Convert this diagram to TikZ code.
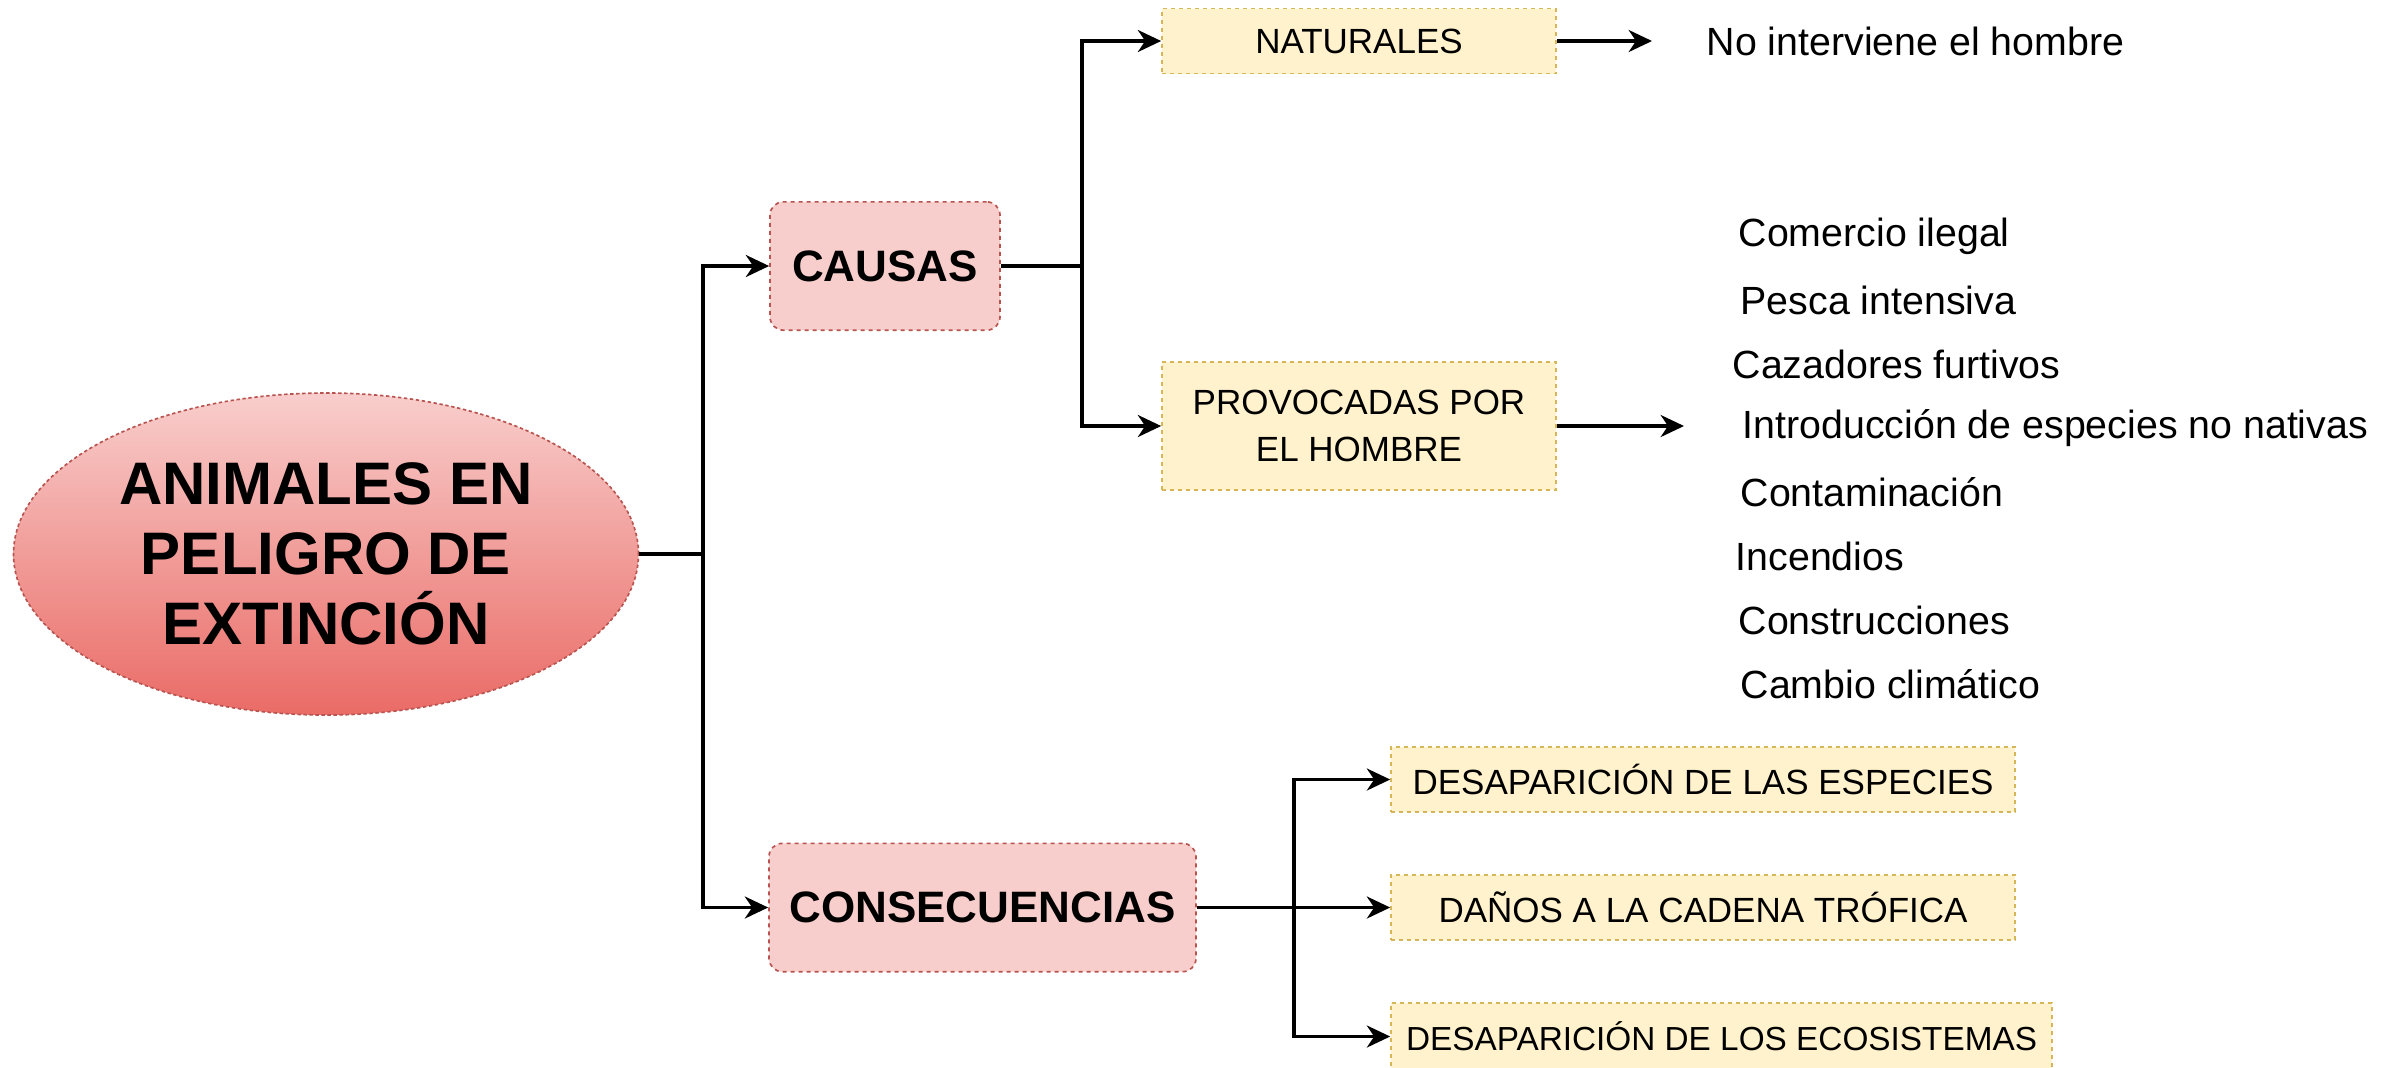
\documentclass[tikz,border=0pt]{standalone}
\usepackage{fontspec}
\setmainfont{Liberation Sans}
\usepackage{xcolor}
\usepackage{tikz}
\usetikzlibrary{arrows.meta,shapes.geometric}

\definecolor{redfill}{HTML}{F8CECC}
\definecolor{redgrad}{HTML}{EA6B66}
\definecolor{redline}{HTML}{B85450}
\definecolor{yelfill}{HTML}{FFF2CC}
\definecolor{yelline}{HTML}{D6B656}

\begin{document}
\begin{tikzpicture}[x=0.3pt,y=0.3pt,yscale=-1,
	conn/.style={line width=1pt,-{Stealth[length=7pt,width=6.6pt,inset=2.2pt]}},
	trunk/.style={line width=1pt},
	mainnode/.style={ellipse,draw=redline,dash pattern=on 1pt off 0.8pt,line width=0.5pt,top color=redfill,bottom color=redgrad,minimum width=187.5pt,minimum height=96.6pt,inner sep=0pt,align=center,font=\fontsize{18}{21}\selectfont\bfseries},
	pinkbox/.style={rectangle,rounded corners=4pt,draw=redline,dash pattern=on 1.2pt off 1.2pt,line width=0.5pt,fill=redfill,minimum height=38.5pt,inner sep=0pt,font=\fontsize{13.2}{15}\selectfont\bfseries},
	yelbox/.style={rectangle,draw=yelline,dash pattern=on 1.2pt off 1.2pt,line width=0.5pt,fill=yelfill,minimum width=118.2pt,inner sep=0pt,align=center,font=\fontsize{10.5}{14.1}\selectfont},
	itemtxt/.style={anchor=west,inner sep=0pt,font=\fontsize{11.8}{14}\selectfont}]
	\useasboundingbox (0,0) rectangle (2389,1067);
	
	%Shape: Ellipse [main]
	\node [mainnode] (animales) at (326,554) {ANIMALES EN\\PELIGRO DE\\EXTINCIÓN};
	
	%Shape: Rounded Rect [causas, consecuencias]
	\node [pinkbox,minimum width=69pt] (causas) at (885,266) {CAUSAS};
	\node [pinkbox,minimum width=128.1pt] (consec) at (982.5,907.5) {CONSECUENCIAS};
	
	%Shape: Rect [naturales, provocadas]
	\node [yelbox,minimum height=19.5pt] (natur) at (1359,41) {NATURALES};
	\node [yelbox,minimum height=38.4pt] (provoc) at (1359,426) {PROVOCADAS POR\\EL HOMBRE};
	
	%Shape: Rect [consecuencias]
	\node [yelbox,minimum width=187.2pt,minimum height=19.5pt] (especies) at (1703,779.5) {DESAPARICIÓN DE LAS ESPECIES};
	\node [yelbox,minimum width=187.2pt,minimum height=19.5pt] (danos) at (1703,907.5) {DAÑOS A LA CADENA TRÓFICA};
	\node [yelbox,minimum width=198.3pt,minimum height=20.1pt,font=\fontsize{10}{14.1}\selectfont] (ecosis) at (1721.5,1036.5) {DESAPARICIÓN DE LOS ECOSISTEMAS};
	
	% Text Node
	\node [itemtxt] (nointer) at (1706,41) {No interviene el hombre};
	% Text Node
	\node [itemtxt] (comercio) at (1738,236) {Comercio ilegal};
	\node [itemtxt] (pesca) at (1740,300) {Pesca intensiva};
	\node [itemtxt] (cazadores) at (1732,364) {Cazadores furtivos};
	\node [itemtxt] (intro) at (1742,428) {Introducción de especies no nativas};
	\node [itemtxt] (contam) at (1740,492) {Contaminación};
	\node [itemtxt] (incendios) at (1735,556) {Incendios};
	\node [itemtxt] (constr) at (1738,620) {Construcciones};
	\node [itemtxt] (cambio) at (1740,684) {Cambio climático};
	
	%Connectors
	\coordinate (split1) at (703,554);
	\coordinate (split2) at (1082,266);
	\coordinate (split3) at (1294,907.5);
	\coordinate (natend) at (1652,41);
	\coordinate (provend) at (1684,426);
	
	\draw [trunk] (animales.east) -- (split1);
	\draw [conn] (split1) |- (causas.west);
	\draw [conn] (split1) |- (consec.west);
	
	\draw [trunk] (causas.east) -- (split2);
	\draw [conn] (split2) |- (natur.west);
	\draw [conn] (split2) |- (provoc.west);
	
	\draw [conn] (natur.east) -- (natend);
	\draw [conn] (provoc.east) -- (provend);
	
	\draw [trunk] (consec.east) -- (split3);
	\draw [conn] (split3) |- (especies.west);
	\draw [conn] (split3) |- (danos.west);
	\draw [conn] (split3) |- (ecosis.west);
	
\end{tikzpicture}
\end{document}
